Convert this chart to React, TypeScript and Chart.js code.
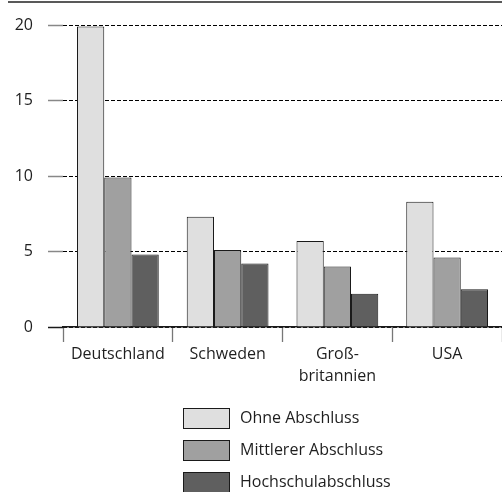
import React, { useEffect, useRef } from "react";
import { Chart, registerables } from "chart.js";

Chart.register(...registerables);

const categories: (string | string[])[] = ["Deutschland", "Schweden", ["Groß-", "britannien"], "USA"];
const seriesNames = ["Ohne Abschluss", "Mittlerer Abschluss", "Hochschulabschluss"];
const ohneAbschluss = [19.9, 7.3, 5.7, 8.3];
const mittlererAbschluss = [9.9, 5.1, 4.0, 4.6];
const hochschulabschluss = [4.8, 4.2, 2.2, 2.5];
const seriesColors = ["#dfdfdf", "#a0a0a0", "#5f5f5f"];
const yTicks = [0, 5, 10, 15, 20];

const FONT = "'Open Sans', sans-serif";
const TEXT = "#1e1e1e";

const topLine = {
  id: "topLine",
  afterDraw(chart: any) {
    const ctx = chart.ctx;
    ctx.save();
    ctx.strokeStyle = "#222222";
    ctx.lineWidth = 1.5;
    ctx.beginPath();
    ctx.moveTo(8, 2);
    ctx.lineTo(chart.width, 2);
    ctx.stroke();
    ctx.restore();
  },
};

const stackedLegend = {
  id: "stackedLegend",
  afterDraw(chart: any) {
    const ctx = chart.ctx;
    const area = chart.chartArea;
    const boxW = 46;
    const boxH = 20;
    const gap = 11;
    const rowStep = 32;
    ctx.save();
    ctx.font = `16px ${FONT}`;
    const items = chart.data.datasets.map((d: any) => ({ text: d.label, fill: d.backgroundColor, stroke: d.borderColor }));
    const maxText = Math.max(...items.map((it: any) => ctx.measureText(it.text).width));
    const blockW = boxW + gap + maxText;
    const left = Math.round((area.left + area.right) / 2 - blockW / 2) + 4;
    items.forEach((it: any, i: number) => {
      const top = area.bottom + 81 + i * rowStep;
      ctx.fillStyle = it.fill;
      ctx.fillRect(left + 0.5, top + 0.5, boxW, boxH);
      ctx.strokeStyle = it.stroke;
      ctx.lineWidth = 1;
      ctx.strokeRect(left + 0.5, top + 0.5, boxW, boxH);
      ctx.fillStyle = TEXT;
      ctx.textBaseline = "middle";
      ctx.textAlign = "left";
      ctx.fillText(it.text, left + boxW + gap, top + boxH / 2 + 0.5);
    });
    ctx.restore();
  },
};

export default function App() {
  const canvasRef = useRef<HTMLCanvasElement | null>(null);

  useEffect(() => {
    if (!canvasRef.current) return;
    const values = [ohneAbschluss, mittlererAbschluss, hochschulabschluss];
    const chart = new Chart(canvasRef.current, {
      type: "bar",
      data: {
        labels: categories,
        datasets: seriesNames.map((name, i) => ({
          label: name,
          data: values[i],
          backgroundColor: seriesColors[i],
          borderColor: "#1a1a1a",
          borderWidth: 1,
          barPercentage: 1,
          categoryPercentage: 0.745,
        })),
      },
      options: {
        animation: false,
        responsive: true,
        maintainAspectRatio: false,
        layout: { padding: { top: 25, left: 0, right: 0, bottom: 95 } },
        plugins: {
          legend: { display: false },
          tooltip: { enabled: false },
        },
        scales: {
          x: {
            afterFit: (s: any) => { s.height = 70; },
            grid: {
              offset: true,
              drawOnChartArea: false,
              drawTicks: true,
              tickLength: 15,
              tickColor: "#777777",
              tickWidth: 1.3,
            },
            border: { display: true, color: "#1a1a1a", width: 1.5 },
            ticks: {
              padding: 1.5,
              color: TEXT,
              font: { family: FONT, size: 16, lineHeight: 1.36 },
              maxRotation: 0,
              autoSkip: false,
            },
          },
          y: {
            min: 0,
            max: 20,
            afterFit: (s: any) => { s.width = 63; },
            afterBuildTicks: (s: any) => { s.ticks = yTicks.map((v) => ({ value: v })); },
            grid: {
              color: (c: any) => (c.tick && c.tick.value === 0 ? "#1a1a1a" : "#000000"),
              lineWidth: 1,
              drawTicks: true,
              tickLength: 15,
              tickColor: (c: any) => (c.tick && c.tick.value === 0 ? "#1a1a1a" : "#888888"),
              tickWidth: 1.5,
            },
            border: { display: false, dash: [4, 2] },
            ticks: {
              padding: 15,
              color: TEXT,
              font: { family: FONT, size: 16 },
            },
          },
        },
      },
      plugins: [topLine, stackedLegend],
    });
    return () => chart.destroy();
  }, []);

  return (
    <div style={{ position: "absolute", left: 0, top: 0, width: 502, height: 492 }}>
      <canvas ref={canvasRef} />
    </div>
  );
}
